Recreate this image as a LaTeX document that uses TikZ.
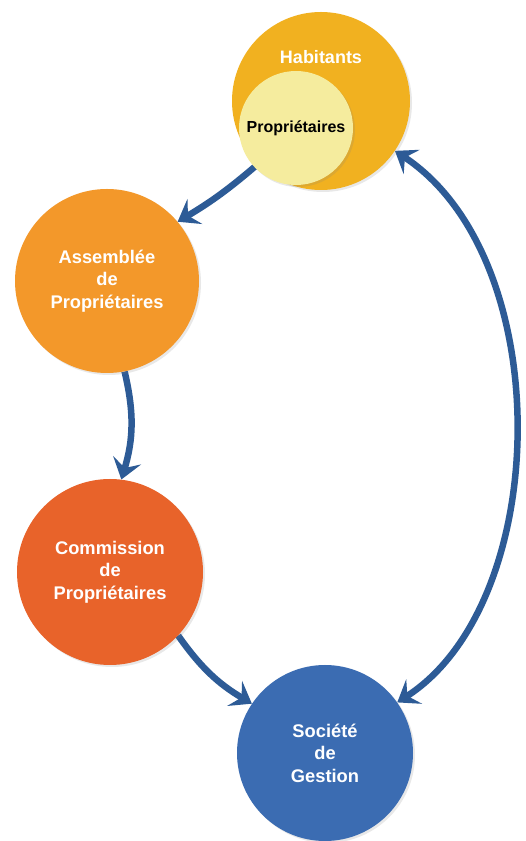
\documentclass[tikz,border=0pt]{standalone}
\usepackage{fontspec}
\setmainfont{Liberation Sans}
\usetikzlibrary{arrows.meta,backgrounds,shadows}
\definecolor{habc}{HTML}{F1B120}
\definecolor{propc}{HTML}{F5EC9E}
\definecolor{assmc}{HTML}{F3982A}
\definecolor{commc}{HTML}{E8632A}
\definecolor{socc}{HTML}{3B6CB2}
\definecolor{arrc}{HTML}{2D5B96}
\begin{document}
\begin{tikzpicture}[x=1pt,y=1pt,
  bubble/.style={circle,inner sep=0pt,text=white,align=center,
    font=\fontsize{18.3}{22.5}\selectfont\bfseries,
    drop shadow={opacity=0.18,shadow xshift=2pt,shadow yshift=-2pt}},
  tipshape/.style={},
  flow/.style={draw=arrc,line width=6.5pt,
    -{Stealth[length=20pt,width=29pt,inset=8pt]}},
  flowtwo/.style={draw=arrc,line width=6.5pt,
    {Stealth[length=20pt,width=29pt,inset=8pt]}-{Stealth[length=20pt,width=29pt,inset=8pt]}}]
\useasboundingbox (0,0) rectangle (525,841);
\node[bubble,fill=habc,minimum size=178pt] (hab) at (321,740) {};
\node[text=white,font=\fontsize{18}{22.5}\selectfont\bfseries] (habt) at (321,784) {Habitants};
\node[bubble,fill=propc,text=black,minimum size=114pt,font=\fontsize{16}{19}\selectfont\bfseries] (prop) at (296,713) {Propriétaires};
\node[bubble,fill=assmc,minimum size=184pt] (assm) at (107,560) {Assemblée\\de\\Propriétaires};
\node[bubble,fill=commc,minimum size=186pt] (comm) at (110,269) {Commission\\de\\Propriétaires};
\node[bubble,fill=socc,minimum size=176pt] (soc) at (325,88) {Société\\de\\Gestion};
\begin{scope}[on background layer]
\fill[white] (0,0) rectangle (525,841);
\draw[flow] (hab.225) to[bend left=5] (assm.40);
\draw[flow] (assm.281) to[bend left=15] (comm.83);
\draw[flow] (comm.317) to[bend right=12] (soc.146);
\draw[flowtwo] (hab.-34) .. controls +(163,-108) and +(155,100) .. (soc.35);
\end{scope}
\end{tikzpicture}
\end{document}
